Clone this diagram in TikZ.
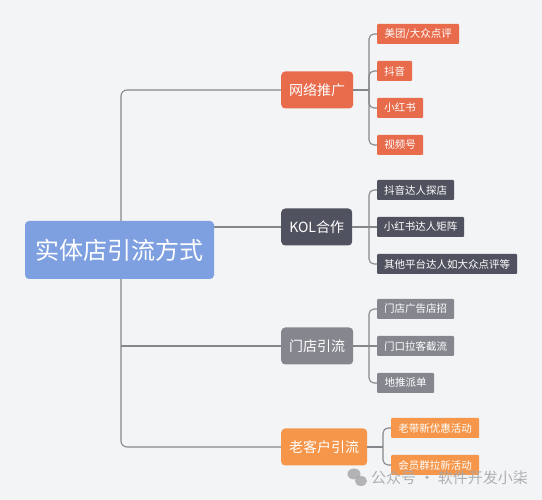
\documentclass[tikz,border=0pt]{standalone}
\usepackage{fontspec}
\newfontfamily\cjk{Noto Sans CJK SC}
\definecolor{bgc}{HTML}{F3F4F6}
\definecolor{linec}{HTML}{85878C}
\definecolor{rootc}{HTML}{7EA0E0}
\definecolor{redc}{HTML}{E86B4C}
\definecolor{darkc}{HTML}{50535F}
\definecolor{grayc}{HTML}{86878E}
\definecolor{orangec}{HTML}{F5964A}
\definecolor{wmc}{HTML}{A8A8AA}
\begin{document}
\begin{tikzpicture}[x=1pt,y=-1pt,
 conn/.style={draw=linec, line width=1.1pt},
 rootbox/.style={fill=rootc, rounded corners=4pt, text=white, font=\cjk\fontsize{24}{24}\selectfont, minimum width=189pt, minimum height=58pt, inner sep=0pt},
 brbox/.style={rounded corners=4pt, text=white, font=\cjk\fontsize{14}{14}\selectfont, minimum height=37pt, inner sep=0pt, anchor=west},
 chbox/.style={rounded corners=1pt, text=white, font=\cjk\fontsize{10.5}{10.5}\selectfont, minimum height=20pt, inner sep=0pt, anchor=west}]
\fill[bgc] (0,0) rectangle (542,500);
\useasboundingbox (0,0) rectangle (542,500);
% coordinates
\coordinate (tx) at (121,0);
\coordinate (j1) at (369,90);
\coordinate (j2) at (369,227);
\coordinate (j3) at (369,346);
\coordinate (j4) at (383,447);
% connectors (drawn first, nodes cover them)
\path (119.5,250) node[rootbox] (root) {实体店引流方式};
\node[brbox, fill=redc, minimum width=72pt] (b1) at (281,90) {网络推广};
\node[brbox, fill=darkc, minimum width=71pt] (b2) at (281,227) {KOL合作};
\node[brbox, fill=grayc, minimum width=72pt] (b3) at (281,346) {门店引流};
\node[brbox, fill=orangec, minimum width=86pt] (b4) at (281,447) {老客户引流};
\node[chbox, fill=redc, minimum width=82pt] (c11) at (377,34) {美团/大众点评};
\node[chbox, fill=redc, minimum width=35pt] (c12) at (377,71) {抖音};
\node[chbox, fill=redc, minimum width=46pt] (c13) at (377,108) {小红书};
\node[chbox, fill=redc, minimum width=46pt] (c14) at (377,145) {视频号};
\node[chbox, fill=darkc, minimum width=77pt] (c21) at (377,190) {抖音达人探店};
\node[chbox, fill=darkc, minimum width=87pt] (c22) at (377,227) {小红书达人矩阵};
\node[chbox, fill=darkc, minimum width=140pt] (c23) at (377,264) {其他平台达人如大众点评等};
\node[chbox, fill=grayc, minimum width=77pt] (c31) at (377,309) {门店广告店招};
\node[chbox, fill=grayc, minimum width=77pt] (c32) at (377,346) {门口拉客截流};
\node[chbox, fill=grayc, minimum width=57pt] (c33) at (377,383) {地推派单};
\node[chbox, fill=orangec, minimum width=88pt] (c41) at (391,428) {老带新优惠活动};
\node[chbox, fill=orangec, minimum width=88pt] (c42) at (391,465) {会员群拉新活动};
\begin{scope}[on background layer/.try]
\end{scope}
% trunk
\draw[conn, rounded corners=6pt] (root.north -| tx) |- (b1.west);
\draw[conn, rounded corners=6pt] (root.south -| tx) |- (b4.west);
\draw[conn] (b2.west -| root.east) -- (b2.west);
\draw[conn] (b3.west -| tx) -- (b3.west);
% branch 1
\draw[conn] (b1.east) -- (j1);
\draw[conn, rounded corners=5pt] (j1) |- (c11.west);
\draw[conn, rounded corners=5pt] (j1) |- (c12.west);
\draw[conn, rounded corners=5pt] (j1) |- (c13.west);
\draw[conn, rounded corners=5pt] (j1) |- (c14.west);
% branch 2
\draw[conn] (b2.east) -- (c22.west);
\draw[conn, rounded corners=5pt] (j2) |- (c21.west);
\draw[conn, rounded corners=5pt] (j2) |- (c23.west);
% branch 3
\draw[conn] (b3.east) -- (c32.west);
\draw[conn, rounded corners=5pt] (j3) |- (c31.west);
\draw[conn, rounded corners=5pt] (j3) |- (c33.west);
% branch 4
\draw[conn] (b4.east) -- (j4);
\draw[conn, rounded corners=5pt] (j4) |- (c41.west);
\draw[conn, rounded corners=5pt] (j4) |- (c42.west);
% watermark
\fill[wmc, opacity=0.85] (354,474) ellipse (6.5pt and 5.5pt);
\fill[wmc, opacity=0.85] (361,481) ellipse (6pt and 5pt);
\node[anchor=west, inner sep=0pt, text=wmc, opacity=0.9, font=\cjk\fontsize{15}{15}\selectfont] (wm) at (371,478) {公众号 · 软件开发小柒};
\end{tikzpicture}
\end{document}
